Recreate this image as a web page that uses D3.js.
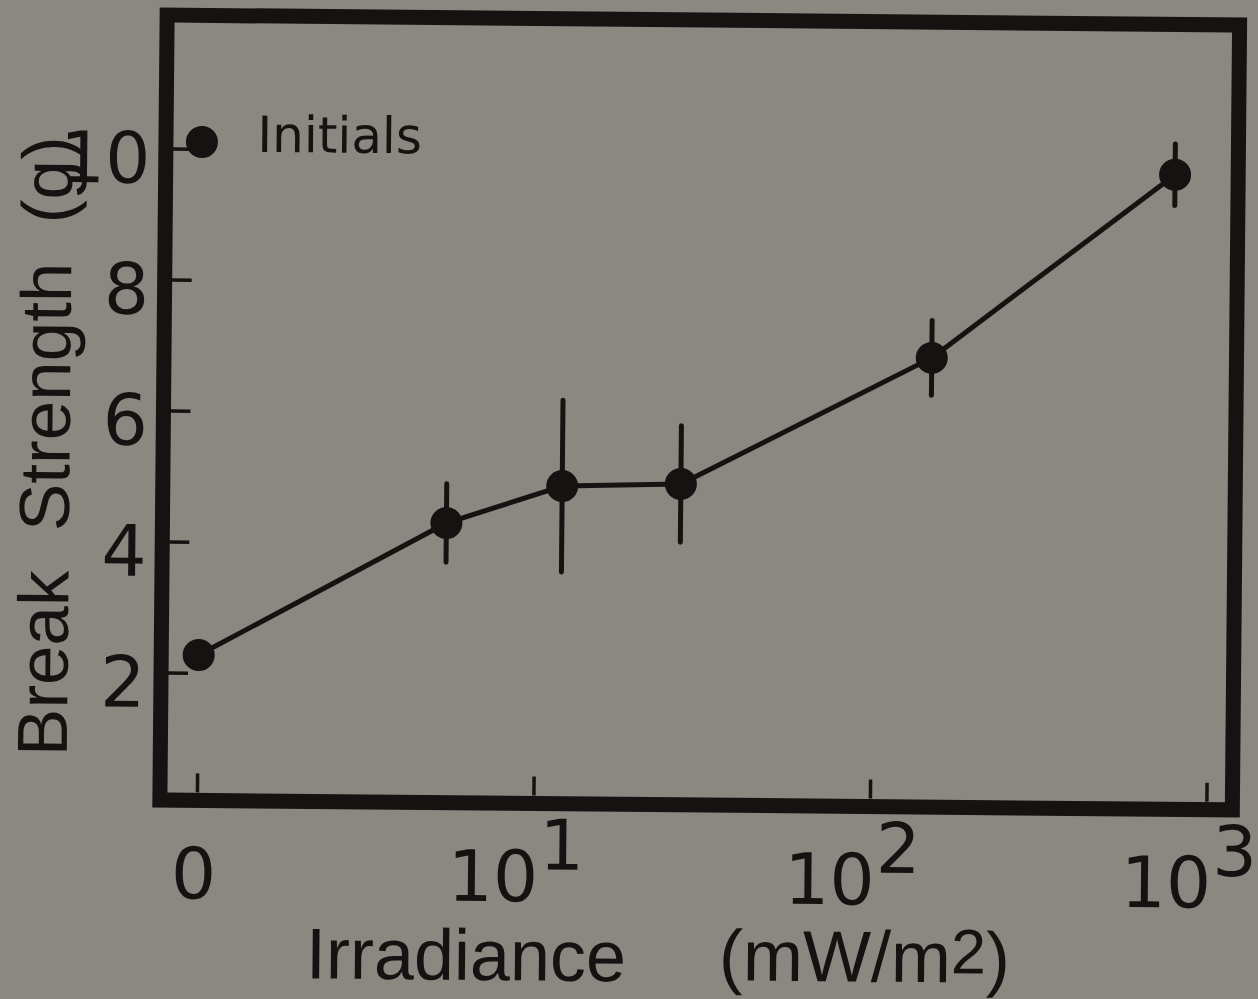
<!DOCTYPE html>
<html>
<head>
<meta charset="utf-8">
<script src="https://cdn.jsdelivr.net/npm/d3@7"></script>
<style>
  html, body { margin: 0; padding: 0; background: #8b8781; }
  svg { display: block; }
  text { white-space: pre; }
</style>
</head>
<body>
<div id="chart"></div>
<script>
// ---- data ----
const irradiance = [0, 5.4, 11.9, 26.8, 148, 773];      // mW/m2 (0 drawn at the axis origin)
const strength   = [2.28, 4.33, 4.91, 4.96, 6.92, 9.75]; // g
const errBar     = [0, 0.60, 1.31, 0.89, 0.57, 0.47];     // g
const yTicks     = [2, 4, 6, 8, 10];
const xTicks     = [1, 10, 100, 1000];
const xTickBase  = ["0", "10", "10", "10"];
const xTickExp   = ["", "1", "2", "3"];
const legendLabel = "Initials";
const xTitle = "Irradiance";
const xUnitA = "(mW/m", xUnitSup = "2", xUnitB = ")";
const yTitle = "Break  Strength  (g)";

// ---- layout ----
const W = 1258, H = 999;
const ink = "#141312";
const frame = { left: 163.5, right: 1236, top: 20, bottom: 805 };

const svg = d3.select("#chart").append("svg")
  .attr("width", W).attr("height", H);
svg.append("rect").attr("width", W).attr("height", H).attr("fill", "#8b8781");

const g = svg.append("g").attr("transform", "rotate(0.53, 700, 410)");

const x = d3.scaleLog().domain([1, 1000]).range([201, 1210.5]);
const y = d3.scaleLinear().domain([0, 12]).range([809, 23]);
const xp = v => x(v === 0 ? 1 : v);

// frame
g.append("rect")
  .attr("x", frame.left).attr("y", frame.top)
  .attr("width", frame.right - frame.left).attr("height", frame.bottom - frame.top)
  .attr("fill", "none").attr("stroke", ink).attr("stroke-width", 15);

// y ticks (inside)
g.selectAll(".yt").data(yTicks).join("line")
  .attr("x1", frame.left + 7).attr("x2", frame.left + 27)
  .attr("y1", d => y(d)).attr("y2", d => y(d))
  .attr("stroke", ink).attr("stroke-width", 3.5);
g.selectAll(".ytl").data(yTicks).join("text")
  .attr("x", 148).attr("y", d => y(d) + 34)
  .attr("text-anchor", "end")
  .attr("font-family", "DejaVu Sans").attr("font-size", 71)
  .attr("fill", ink).text(d => d);

// x ticks (inside)
g.selectAll(".xt").data(xTicks).join("line")
  .attr("x1", d => x(d)).attr("x2", d => x(d))
  .attr("y1", frame.bottom - 8).attr("y2", frame.bottom - 27)
  .attr("stroke", ink).attr("stroke-width", 3.5);
g.selectAll(".xtl").data(xTicks).join("text")
  .attr("x", (d, i) => xTickExp[i] ? x(d) + 5 : x(d) - 3)
  .attr("y", 903)
  .attr("text-anchor", (d, i) => xTickExp[i] ? "end" : "middle")
  .attr("font-family", "DejaVu Sans").attr("font-size", 71)
  .attr("fill", ink).text((d, i) => xTickBase[i]);
g.selectAll(".xte").data(xTicks.filter((d, i) => xTickExp[i])).join("text")
  .attr("x", d => x(d) + 6)
  .attr("y", 871)
  .attr("text-anchor", "start")
  .attr("font-family", "DejaVu Sans").attr("font-size", 70)
  .attr("fill", ink).text(d => xTickExp[xTicks.indexOf(d)]);

// connecting line
const pts = irradiance.map((v, i) => [xp(v), y(strength[i])]);
g.append("path")
  .attr("d", d3.line()(pts))
  .attr("fill", "none").attr("stroke", ink).attr("stroke-width", 5)
  .attr("stroke-linejoin", "round");

// error bars
g.selectAll(".eb").data(irradiance.map((v, i) => i).filter(i => errBar[i] > 0)).join("line")
  .attr("x1", i => xp(irradiance[i])).attr("x2", i => xp(irradiance[i]))
  .attr("y1", i => y(strength[i] + errBar[i])).attr("y2", i => y(strength[i] - errBar[i]))
  .attr("stroke", ink).attr("stroke-width", 5).attr("stroke-linecap", "round");

// points
g.selectAll(".pt").data(irradiance.map((v, i) => i)).join("circle")
  .attr("cx", i => xp(irradiance[i])).attr("cy", i => y(strength[i]))
  .attr("r", 16).attr("fill", ink);

// legend
g.append("circle").attr("cx", 199.5).attr("cy", 146.6).attr("r", 16).attr("fill", ink);
g.append("text").attr("x", 255).attr("y", 156)
  .attr("font-family", "DejaVu Sans").attr("font-size", 50)
  .attr("fill", ink).text(legendLabel);

// axis titles
g.append("text").attr("x", 311).attr("y", 982)
  .attr("font-family", "Liberation Sans").attr("font-size", 72)
  .attr("fill", ink).text(xTitle);
const xu = g.append("text").attr("x", 724).attr("y", 980)
  .attr("font-family", "Liberation Sans").attr("font-size", 72)
  .attr("fill", ink);
xu.append("tspan").text(xUnitA);
xu.append("tspan").attr("dy", -9).attr("font-size", 63).text(xUnitSup);
xu.append("tspan").attr("dy", 9).text(xUnitB);

g.append("text")
  .attr("transform", "translate(70, 762) rotate(-90)")
  .attr("x", 0).attr("y", 0)
  .attr("font-family", "Liberation Sans").attr("font-size", 71)
  .attr("fill", ink).text(yTitle);
</script>
</body>
</html>
